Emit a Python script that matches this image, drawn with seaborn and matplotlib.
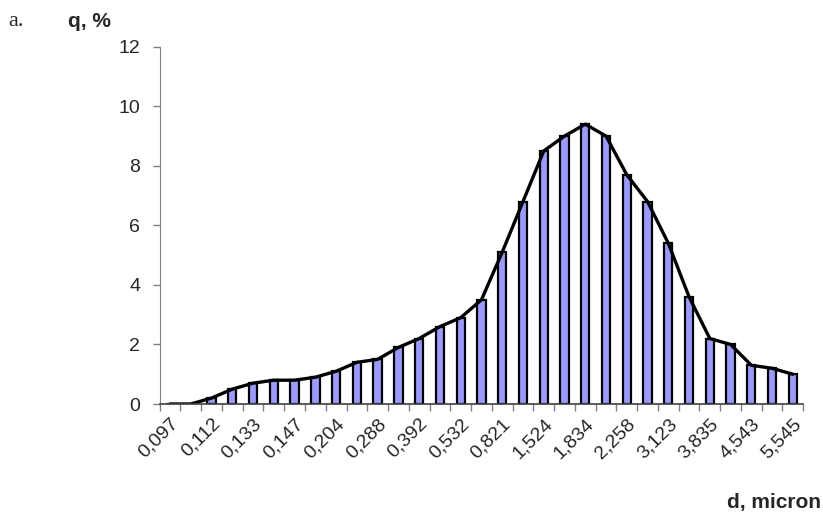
import numpy as np
import pandas as pd
import matplotlib
matplotlib.use('Agg')
import matplotlib.pyplot as plt
import seaborn as sns

# particle size distribution, 31 size classes (only every other one labeled)
q_values = [0.0, 0.0, 0.2, 0.5, 0.7, 0.8, 0.8, 0.9, 1.1, 1.4, 1.5,
            1.9, 2.2, 2.6, 2.9, 3.5, 5.1, 6.8, 8.5, 9.0, 9.4, 9.0,
            7.7, 6.8, 5.4, 3.6, 2.2, 2.0, 1.3, 1.2, 1.0]
d_labels = ['0,097', '0,112', '0,133', '0,147', '0,204', '0,288', '0,392', '0,532',
            '0,821', '1,524', '1,834', '2,258', '3,123', '3,835', '4,543', '5,545']
y_ticks = [0, 2, 4, 6, 8, 10, 12]

BAR_COLOR = '#9999FF'
AXIS_GRAY = '#808080'

df = pd.DataFrame({'cls': np.arange(len(q_values)), 'q': q_values})

sns.set_style('white')
plt.rcParams['font.family'] = ['Liberation Sans', 'DejaVu Sans']

fig = plt.figure(figsize=(8.23, 5.14), dpi=100)
ax = fig.add_axes([0.194, 0.214, 0.782, 0.695])

sns.barplot(data=df, x='cls', y='q', width=0.4, color=BAR_COLOR,
            edgecolor='black', linewidth=1.6, saturation=1, ax=ax)
sns.lineplot(data=df, x='cls', y='q', color='black', linewidth=2.4, ax=ax)

n = len(q_values)
ax.set_xlim(-0.5, n - 0.5)
ax.set_ylim(0, 12)
ax.set_yticks(y_ticks)
ax.set_yticklabels([str(t) for t in y_ticks], fontsize=14)

# labels on every second class, tick marks on class boundaries
ax.set_xticks(np.arange(0, n, 2))
ax.set_xticklabels(d_labels, rotation=45, ha='right', va='top',
                   rotation_mode='anchor', fontsize=14)
ax.set_xticks(np.arange(-0.5, n, 1), minor=True)
ax.tick_params(axis='x', which='major', length=0, pad=8)
ax.tick_params(axis='x', which='minor', length=5, color=AXIS_GRAY, width=1,
               direction='out', bottom=True)
ax.tick_params(axis='y', length=5, color=AXIS_GRAY, width=1, direction='out',
               left=True, pad=9)

for side in ['top', 'right']:
    ax.spines[side].set_visible(False)
ax.spines['left'].set_color(AXIS_GRAY)
ax.spines['bottom'].set_color('#404040')
ax.spines['bottom'].set_linewidth(1.2)

ax.set_xlabel('')
ax.set_ylabel('')

fig.text(0.010, 0.949, 'a.', fontsize=16, family=['Liberation Serif', 'DejaVu Serif'])
fig.text(0.083, 0.947, 'q, %', fontsize=15, fontweight='bold')
fig.text(0.997, 0.012, 'd, micron', fontsize=15, fontweight='bold', ha='right')

fig.savefig('out.png', dpi=100)
